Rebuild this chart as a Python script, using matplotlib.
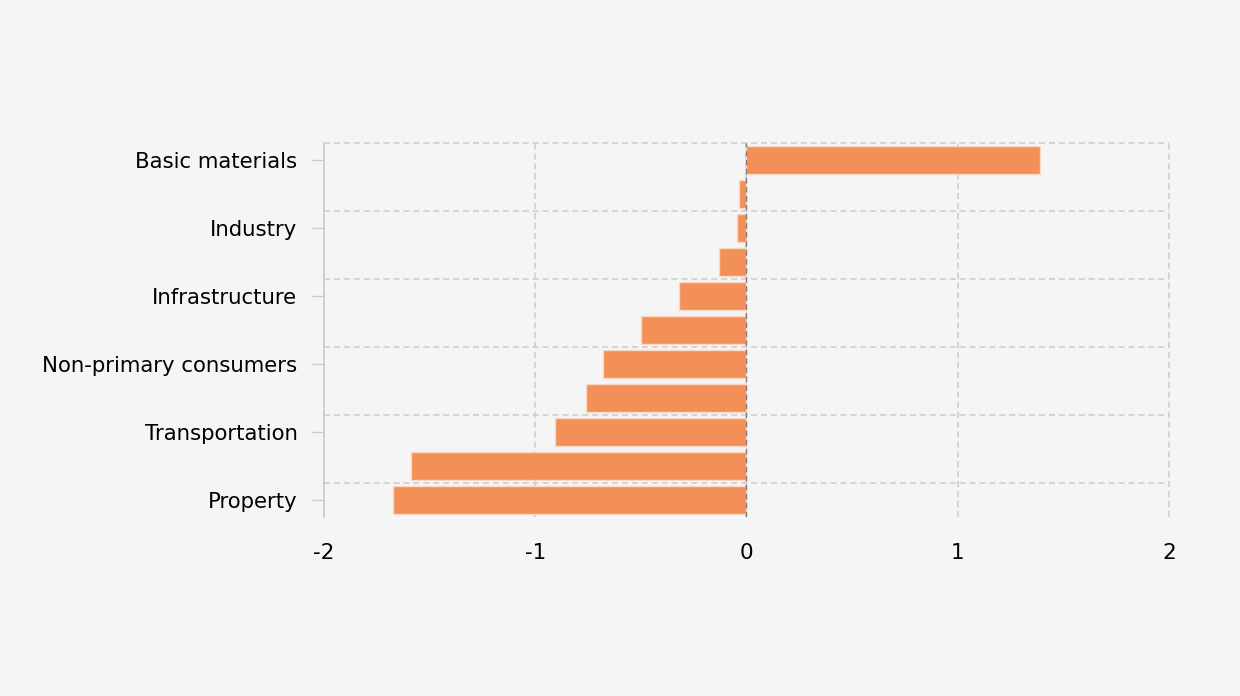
import matplotlib
matplotlib.use("Agg")
import matplotlib.pyplot as plt
import numpy as np

# sectors, top to bottom (only every other label is shown on the axis)
sectors = ["Basic materials", "Energy", "Industry", "Utilities", "Infrastructure",
           "Technology", "Non-primary consumers", "Primary consumers",
           "Transportation", "Finance", "Property"]
values = [1.39, -0.035, -0.045, -0.13, -0.32, -0.50, -0.68, -0.76, -0.905, -1.59, -1.675]
xticks = [-2, -1, 0, 1, 2]

bg = "#f5f5f5"
bar_color = "#f38b4e"
grid_color = "#cccccc"

plt.rcParams['font.family'] = ['DejaVu Sans']

fig = plt.figure(figsize=(12.4, 6.96), dpi=100, facecolor=bg)
ax = fig.add_axes([324 / 1240, 179 / 696, 845 / 1240, 374 / 696])
ax.set_facecolor(bg)

# bottom category first so it sits at y=0
y = np.arange(len(sectors))
ax.barh(y, values[::-1], height=0.85, color=bar_color, alpha=0.95,
        edgecolor="#fbd9c4", linewidth=1, zorder=2)

ax.set_xlim(-2, 2)
ax.set_ylim(-0.5, len(sectors) - 0.5)
ax.set_xticks(xticks)
ax.set_xticklabels([str(t) for t in xticks])

labels_bottom_up = sectors[::-1]
shown = y[::2]
ax.set_yticks(shown)
ax.set_yticklabels([labels_bottom_up[i] for i in shown])
ax.set_yticks(shown + 0.5, minor=True)

ax.tick_params(axis='x', length=0, pad=19, labelsize=15.5, colors='black')
ax.tick_params(axis='y', which='major', length=8.6, width=1, color="#cccccc",
               pad=10.5, labelsize=15.3, labelcolor='black')
ax.tick_params(axis='y', which='minor', length=0)

dash = (0, (4, 2.5))
ax.grid(axis='y', which='minor', color=grid_color, linestyle=dash, linewidth=1.1)
ax.grid(axis='x', which='major', color=grid_color, linestyle=dash, linewidth=1.1)
ax.set_axisbelow(True)
for tick in ax.xaxis.get_major_ticks() + ax.yaxis.get_minor_ticks():
    tick.gridline.set_clip_on(False)

# dark dashed line at zero, drawn over the bars
ax.axvline(0, color="#666666", linestyle=dash, linewidth=1, alpha=0.8, zorder=3)

for side in ['top', 'right', 'bottom']:
    ax.spines[side].set_visible(False)
ax.spines['left'].set_color("#cccccc")
ax.spines['left'].set_linewidth(1.2)

fig.savefig("out.png", dpi=100, facecolor=bg)
